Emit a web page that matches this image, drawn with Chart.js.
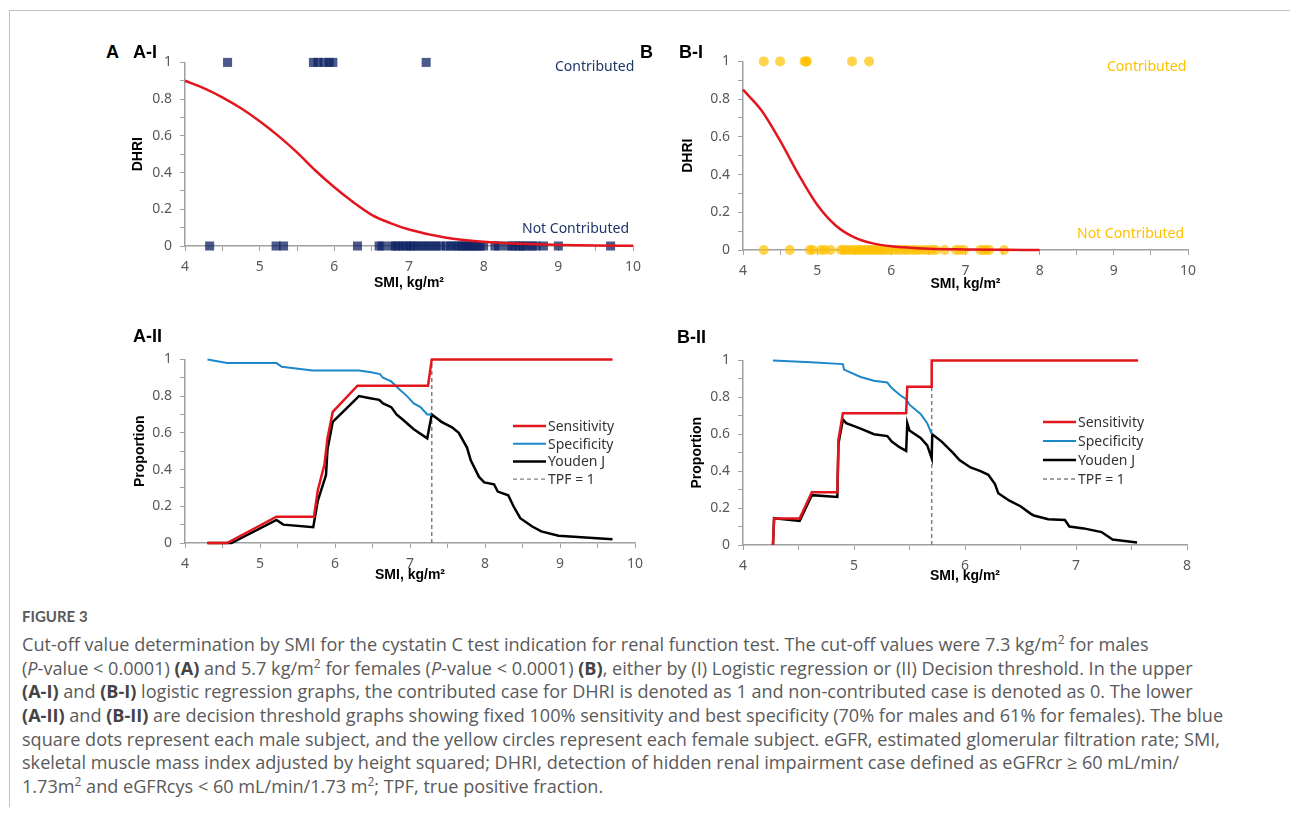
<!DOCTYPE html>
<html>
<head>
<meta charset="utf-8">
<script src="https://cdn.jsdelivr.net/npm/chart.js@4.4.1/dist/chart.umd.min.js"></script>
<style>
  body { margin: 0; background: #fff; width: 1290px; height: 817px; overflow: hidden; position: relative; }
  .frame { position: absolute; left: 9px; top: 10px; width: 1300px; height: 796px; border-left: 1px solid #c4c4c4; border-top: 1px solid #c4c4c4; }
  canvas { position: absolute; }
  .lbl { position: absolute; font: bold 18px 'Liberation Sans', Arial, sans-serif; color: #000; line-height: 20px; margin-top: -10px; }
  .note { position: absolute; font: 14px 'Noto Sans', sans-serif; line-height: 18px; margin-top: -9px; white-space: nowrap; }
  .fig { position: absolute; left: 22px; top: 606px; font: bold 15px Lato, sans-serif; color: #5a5a5a; line-height: 20px; }
  .cap { position: absolute; left: 22px; top: 633px; font: 18.1px 'Open Sans', sans-serif; color: #5a5a5a; white-space: nowrap; }
  .cap div { height: 23.7px; line-height: 23.7px; }
  .cap sup { font-size: 12px; vertical-align: baseline; position: relative; top: -7px; }
  .cap b { color: #444; }
</style>
</head>
<body>
<div class="frame"></div>

<canvas id="aI"></canvas>
<canvas id="bI"></canvas>
<canvas id="aII"></canvas>
<canvas id="bII"></canvas>

<div class="lbl" style="left:106px;top:52px">A</div>
<div class="lbl" style="left:133px;top:52px">A-I</div>
<div class="lbl" style="left:640px;top:52px">B</div>
<div class="lbl" style="left:679px;top:52px">B-I</div>
<div class="lbl" style="left:133px;top:336px">A-II</div>
<div class="lbl" style="left:677px;top:337px">B-II</div>

<div class="note" style="left:555px;top:66px;color:#1f3468">Contributed</div>
<div class="note" style="left:522px;top:228px;color:#1f3468">Not Contributed</div>
<div class="note" style="left:1107px;top:66px;color:#ffc000">Contributed</div>
<div class="note" style="left:1077px;top:233px;color:#ffc000">Not Contributed</div>

<div class="fig">FIGURE 3</div>
<div class="cap">
  <div>Cut-off value determination by SMI for the cystatin C test indication for renal function test. The cut-off values were 7.3 kg/m<sup>2</sup> for males</div>
  <div>(<i>P</i>-value &lt; 0.0001) <b>(A)</b> and 5.7 kg/m<sup>2</sup> for females (<i>P</i>-value &lt; 0.0001) <b>(B)</b>, either by (I) Logistic regression or (II) Decision threshold. In the upper</div>
  <div><b>(A-I)</b> and <b>(B-I)</b> logistic regression graphs, the contributed case for DHRI is denoted as 1 and non-contributed case is denoted as 0. The lower</div>
  <div><b>(A-II)</b> and <b>(B-II)</b> are decision threshold graphs showing fixed 100% sensitivity and best specificity (70% for males and 61% for females). The blue</div>
  <div>square dots represent each male subject, and the yellow circles represent each female subject. eGFR, estimated glomerular filtration rate; SMI,</div>
  <div>skeletal muscle mass index adjusted by height squared; DHRI, detection of hidden renal impairment case defined as eGFRcr &ge; 60 mL/min/</div>
  <div>1.73m<sup>2</sup> and eGFRcys &lt; 60 mL/min/1.73 m<sup>2</sup>; TPF, true positive fraction.</div>
</div>

<script>
// ---- data ----

// A-I males, logistic fit
const logitMaleX = [4.0, 4.25, 4.5, 4.75, 5.0, 5.25, 5.5, 5.75, 6.0, 6.25, 6.5, 6.75, 7.0, 7.5, 8.0, 8.5, 9.0, 9.5, 10.0];
const logitMaleY = [0.90, 0.86, 0.81, 0.75, 0.68, 0.60, 0.51, 0.41, 0.32, 0.24, 0.17, 0.125, 0.09, 0.045, 0.023, 0.012, 0.006, 0.003, 0.0015];
// male subjects (SMI) by outcome
const maleContributed = [4.57, 5.72, 5.78, 5.86, 5.93, 5.98, 7.23];
const maleNotContributed = [4.33, 5.22, 5.32, 6.31, 6.60, 6.64, 6.76, 6.82, 6.86, 6.92, 6.97, 7.02, 7.06, 7.12, 7.18, 7.24,
  7.30, 7.36, 7.42, 7.50, 7.56, 7.62, 7.67, 7.71, 7.75, 7.79, 7.83, 7.87, 7.91, 7.95, 8.00, 8.15, 8.20, 8.32, 8.38, 8.43,
  8.48, 8.53, 8.58, 8.65, 8.70, 8.80, 9.00, 9.70];

// B-I females, logistic fit
const logitFemX = [4.0, 4.25, 4.5, 4.75, 5.0, 5.25, 5.5, 5.75, 6.0, 6.5, 7.0, 7.5, 8.0];
const logitFemY = [0.85, 0.74, 0.58, 0.40, 0.24, 0.13, 0.067, 0.035, 0.02, 0.007, 0.003, 0.001, 0.0005];
const femContributed = [4.28, 4.50, 4.83, 4.85, 4.86, 5.47, 5.70];
const femNotContributed = [4.28, 4.63, 4.90, 4.94, 5.05, 5.10, 5.18, 5.32, 5.36, 5.40, 5.45, 5.50, 5.54, 5.58, 5.62, 5.66,
  5.70, 5.74, 5.78, 5.82, 5.86, 5.90, 5.95, 6.00, 6.06, 6.12, 6.18, 6.22, 6.28, 6.33, 6.38, 6.44, 6.50, 6.55, 6.60, 6.72,
  6.87, 6.92, 6.98, 7.20, 7.24, 7.28, 7.32, 7.52];

// A-II males, decision threshold
const sensMaleX = [4.30, 4.56, 5.22, 5.72, 5.77, 5.86, 5.90, 5.97, 6.30, 7.24, 7.29, 9.70];
const sensMaleY = [0, 0, 0.143, 0.143, 0.286, 0.429, 0.571, 0.714, 0.857, 0.857, 1, 1];
const specMaleX = [4.30, 4.56, 5.22, 5.29, 5.70, 6.32, 6.48, 6.60, 6.64, 6.75, 6.85, 6.96, 7.05, 7.14, 7.23, 7.29];
const specMaleY = [1.00, 0.98, 0.98, 0.96, 0.94, 0.94, 0.93, 0.92, 0.90, 0.88, 0.84, 0.80, 0.76, 0.74, 0.70, 0.70];
const youdenMaleX = [4.30, 4.62, 5.22, 5.31, 5.71, 5.77, 5.88, 5.90, 5.97, 6.32, 6.45, 6.59, 6.64, 6.75, 6.82, 6.91, 7.05,
  7.23, 7.29, 7.42, 7.56, 7.65, 7.76, 7.81, 7.92, 7.99, 8.12, 8.17, 8.31, 8.38, 8.47, 8.63, 8.75, 8.98, 9.70];
const youdenMaleY = [0, 0, 0.126, 0.10, 0.086, 0.23, 0.37, 0.51, 0.66, 0.80, 0.79, 0.78, 0.76, 0.74, 0.70, 0.67, 0.62,
  0.57, 0.70, 0.66, 0.63, 0.60, 0.52, 0.45, 0.36, 0.33, 0.32, 0.28, 0.26, 0.20, 0.135, 0.09, 0.063, 0.04, 0.02];
const tpfMale = 7.29;

// B-II females, decision threshold
const sensFemX = [4.27, 4.28, 4.51, 4.62, 4.85, 4.86, 4.90, 5.47, 5.48, 5.70, 5.70, 7.56];
const sensFemY = [0, 0.143, 0.143, 0.286, 0.286, 0.571, 0.714, 0.714, 0.857, 0.857, 1, 1];
const specFemX = [4.27, 4.61, 4.90, 4.91, 5.06, 5.18, 5.30, 5.34, 5.42, 5.47, 5.50, 5.60, 5.66, 5.70];
const specFemY = [1.00, 0.99, 0.98, 0.95, 0.91, 0.89, 0.88, 0.85, 0.81, 0.79, 0.76, 0.71, 0.66, 0.60];
const youdenFemX = [4.27, 4.28, 4.51, 4.62, 4.85, 4.86, 4.90, 4.93, 5.06, 5.18, 5.30, 5.34, 5.41, 5.47, 5.48, 5.50, 5.60,
  5.66, 5.70, 5.705, 5.79, 5.89, 5.95, 6.05, 6.14, 6.21, 6.27, 6.30, 6.40, 6.50, 6.59, 6.62, 6.75, 6.90, 6.94, 7.07, 7.23,
  7.33, 7.55];
const youdenFemY = [0, 0.145, 0.13, 0.27, 0.26, 0.55, 0.68, 0.66, 0.63, 0.60, 0.59, 0.56, 0.53, 0.51, 0.66, 0.62, 0.58,
  0.54, 0.47, 0.60, 0.56, 0.50, 0.46, 0.42, 0.40, 0.38, 0.33, 0.28, 0.24, 0.21, 0.17, 0.16, 0.14, 0.135, 0.10, 0.09, 0.07,
  0.03, 0.013];
const tpfFem = 5.70;

const legendLabels = ['Sensitivity', 'Specificity', 'Youden J', 'TPF = 1'];

// ---- helpers ----
const pts = (xs, ys) => xs.map((x, i) => ({ x: x, y: ys[i] }));
const atLevel = (xs, level) => xs.map(x => ({ x: x, y: level }));

const RED = '#e3161e';
const BLUE = '#1c87c9';
const AXIS = '#a0a0a0';
const TICK = '#595959';
const PAD_TOP = 15, PAD_RIGHT = 25;

// legend drawn at a fixed spot, from the datasets themselves
const fixedLegend = {
  id: 'fixedLegend',
  afterDraw(chart, args, opts) {
    if (opts.x == null) return;
    const ctx = chart.ctx;
    ctx.save();
    ctx.font = '14px "Noto Sans"';
    ctx.textBaseline = 'middle';
    chart.data.datasets.forEach((ds, i) => {
      const y = opts.y + i * opts.rowH;
      ctx.beginPath();
      ctx.strokeStyle = ds.borderColor;
      ctx.lineWidth = ds.borderDash ? 1.3 : ds.borderWidth;
      ctx.setLineDash(ds.borderDash || []);
      ctx.moveTo(opts.x, y);
      ctx.lineTo(opts.x + 33, y);
      ctx.stroke();
      ctx.setLineDash([]);
      ctx.fillStyle = '#333';
      ctx.fillText(ds.label, opts.x + 35, y + 1);
    });
    ctx.restore();
  }
};

function panel(id, box, xMax, yW, xH, yTitle, datasets, legend) {
  const cv = document.getElementById(id);
  const left = box.L - yW, top = box.T - PAD_TOP;
  cv.width = box.R + PAD_RIGHT - left;
  cv.height = box.B + xH - top;
  cv.style.left = left + 'px';
  cv.style.top = top + 'px';

  new Chart(cv, {
    type: 'scatter',
    data: { datasets: datasets },
    plugins: legend ? [fixedLegend] : [],
    options: {
      responsive: false,
      animation: false,
      events: [],
      layout: { padding: { left: 0, top: PAD_TOP, right: PAD_RIGHT, bottom: 0 } },
      plugins: {
        legend: { display: false },
        tooltip: { enabled: false },
        fixedLegend: legend ? { x: legend.x - left, y: legend.y - top, rowH: legend.rowH } : {}
      },
      scales: {
        x: {
          type: 'linear', min: 4, max: xMax,
          afterFit: s => { s.height = xH; },
          grid: { display: true, drawOnChartArea: false, drawTicks: true, tickLength: 5, color: AXIS, lineWidth: 1 },
          border: { display: true, color: AXIS, width: 1.5 },
          ticks: {
            stepSize: 0.5, autoSkip: false, maxRotation: 0, padding: 8,
            color: TICK, font: { family: 'Noto Sans', size: 14 },
            callback: v => Number.isInteger(v) ? String(v) : ''
          },
          title: {
            display: true, text: 'SMI, kg/m²', color: '#000',
            font: { family: 'Liberation Sans', size: 14, weight: 'bold' },
            padding: { top: 0, bottom: 0 }
          }
        },
        y: {
          type: 'linear', min: 0, max: 1,
          afterFit: s => { s.width = yW; },
          grid: { display: true, drawOnChartArea: false, drawTicks: true, tickLength: 5, color: AXIS, lineWidth: 1 },
          border: { display: true, color: AXIS, width: 1.5 },
          ticks: {
            stepSize: 0.1, autoSkip: false, padding: 8,
            color: TICK, font: { family: 'Noto Sans', size: 14 },
            callback: v => { const k = Math.round(v * 10); return k % 2 === 0 ? String(k / 10) : ''; }
          },
          title: {
            display: true, text: yTitle, color: '#000',
            font: { family: 'Liberation Sans', size: 14, weight: 'bold' },
            padding: { top: 0, bottom: 0 }
          }
        }
      }
    }
  });
}

function logitSets(cx, cy, yes, no, markStyle) {
  return [
    { label: 'fit', data: pts(cx, cy), showLine: true, borderColor: RED, borderWidth: 2.5,
      pointRadius: 0, cubicInterpolationMode: 'monotone', clip: false },
    Object.assign({ label: 'contributed', data: atLevel(yes, 1), clip: false, borderWidth: 0 }, markStyle),
    Object.assign({ label: 'not contributed', data: atLevel(no, 0), clip: false, borderWidth: 0 }, markStyle)
  ];
}

function thresholdSets(sx, sy, px, py, jx, jy, cut) {
  const line = { showLine: true, pointRadius: 0, clip: false, tension: 0 };
  return [
    Object.assign({ label: legendLabels[0], data: pts(sx, sy), borderColor: RED, borderWidth: 2.5 }, line),
    Object.assign({ label: legendLabels[1], data: pts(px, py), borderColor: BLUE, borderWidth: 2 }, line),
    Object.assign({ label: legendLabels[2], data: pts(jx, jy), borderColor: '#000', borderWidth: 2.5 }, line),
    Object.assign({ label: legendLabels[3], data: [{ x: cut, y: 0 }, { x: cut, y: 1 }],
      borderColor: '#808080', borderWidth: 1.5, borderDash: [4, 3] }, line)
  ];
}

const squareMark = { pointStyle: 'rect', pointRadius: 6.4, backgroundColor: 'rgba(15,35,100,0.75)' };
const circleMark = { pointStyle: 'circle', pointRadius: 5, backgroundColor: 'rgba(255,192,0,0.7)' };

panel('aI', { L: 185, R: 633, T: 61, B: 246 }, 10, 55, 46, 'DHRI',
  logitSets(logitMaleX, logitMaleY, maleContributed, maleNotContributed, squareMark));

panel('bI', { L: 743, R: 1188, T: 60, B: 250 }, 10, 63, 43, 'DHRI',
  logitSets(logitFemX, logitFemY, femContributed, femNotContributed, circleMark));

panel('aII', { L: 185, R: 635, T: 358, B: 543 }, 10, 53, 41, 'Proportion',
  thresholdSets(sensMaleX, sensMaleY, specMaleX, specMaleY, youdenMaleX, youdenMaleY, tpfMale),
  { x: 513, y: 426, rowH: 17.7 });

panel('bII', { L: 743, R: 1187, T: 359, B: 545 }, 8, 54, 40, 'Proportion',
  thresholdSets(sensFemX, sensFemY, specFemX, specFemY, youdenFemX, youdenFemY, tpfFem),
  { x: 1043, y: 422, rowH: 19 });
</script>
</body>
</html>
